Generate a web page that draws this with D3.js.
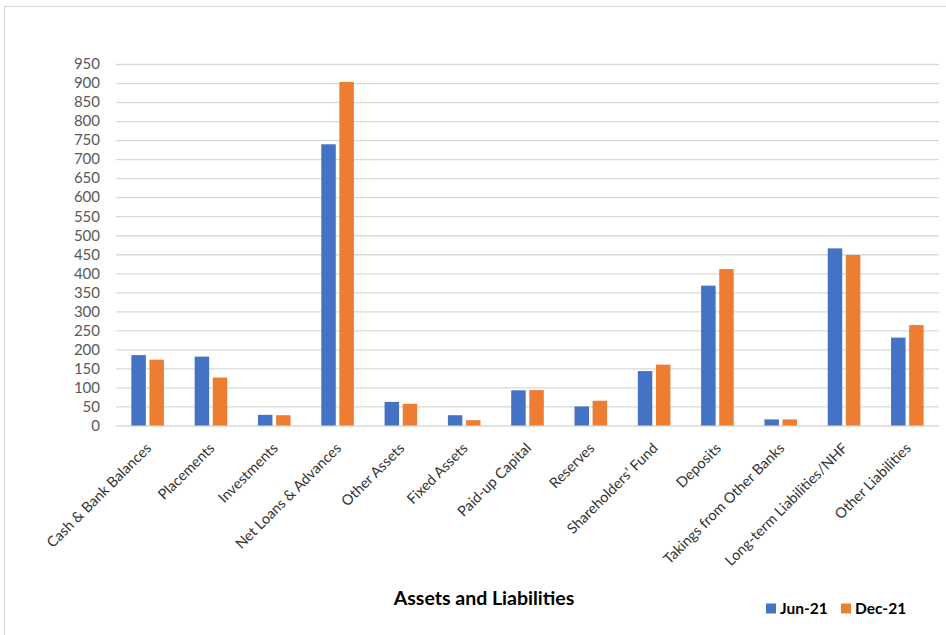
<!DOCTYPE html>
<html>
<head>
<meta charset="utf-8">
<script src="https://cdn.jsdelivr.net/npm/d3@7"></script>
<style>
  html, body { margin: 0; padding: 0; background: #fff; }
  svg { display: block; font-family: Lato, "Open Sans", sans-serif; }
</style>
</head>
<body>
<svg id="chart" width="946" height="635"></svg>
<script>
// Balance sheet items for two reporting dates
const categories = [
  "Cash & Bank Balances", "Placements", "Investments", "Net Loans & Advances",
  "Other Assets", "Fixed Assets", "Paid-up Capital", "Reserves",
  "Shareholders’ Fund", "Deposits", "Takings from Other Banks",
  "Long-term Liabilities/NHF", "Other Liabilities"
];
const seriesNames = ["Jun-21", "Dec-21"];
const jun21 = [185, 181, 28, 739, 62, 27, 92.5, 50, 143, 367.5, 16, 465.5, 231];
const dec21 = [173, 126, 27, 903, 57, 14, 93, 65, 160, 411, 16, 448, 264];
const yTicks = d3.range(0, 951, 50);
const colors = ["#4472C4", "#ED7D31"];
const axisTitle = "Assets and Liabilities";

const svg = d3.select("#chart");

// outer frame of the chart area
svg.append("path")
  .attr("d", "M4.5,636 V6.5 H947")
  .attr("fill", "none")
  .attr("stroke", "#d9d9d9")
  .attr("stroke-width", 1.2);

const plot = { left: 116, right: 939, top: 64, bottom: 425.5 };

const y = d3.scaleLinear().domain([0, 950]).range([plot.bottom, plot.top]);
const x0 = d3.scaleBand().domain(categories).range([plot.left, plot.right]);
const groupHalf = 16.3;
const x1 = d3.scaleBand().domain(seriesNames)
  .range([x0.bandwidth() / 2 - groupHalf, x0.bandwidth() / 2 + groupHalf])
  .paddingInner(0.2);

// horizontal gridlines + value labels
const yAxis = d3.axisLeft(y).tickValues(yTicks).tickSize(-(plot.right - plot.left)).tickPadding(16);
const gy = svg.append("g")
  .attr("transform", `translate(${plot.left},0)`)
  .call(yAxis);
gy.select(".domain").remove();
gy.selectAll(".tick line").attr("stroke", "#d9d9d9").attr("stroke-width", 1.3);
gy.selectAll(".tick text")
  .attr("fill", "#595959")
  .style("font-size", "15px")
  .style("font-family", "Lato, sans-serif");

// bars
const rows = categories.map((c, i) => ({ cat: c, vals: [jun21[i], dec21[i]] }));
const groups = svg.append("g").selectAll("g")
  .data(rows).join("g")
  .attr("transform", d => `translate(${x0(d.cat)},0)`);
groups.selectAll("rect")
  .data(d => d.vals.map((v, k) => ({ key: seriesNames[k], v, k })))
  .join("rect")
  .attr("x", d => x1(d.key))
  .attr("width", x1.bandwidth())
  .attr("y", d => y(d.v))
  .attr("height", d => y(0) - y(d.v))
  .attr("fill", d => colors[d.k]);

// category labels rotated 45 degrees
const xAxis = d3.axisBottom(x0).tickSize(0).tickPadding(0);
const gx = svg.append("g")
  .attr("transform", `translate(0,${plot.bottom})`)
  .call(xAxis);
gx.select(".domain").remove();
gx.selectAll(".tick text")
  .attr("text-anchor", "end")
  .attr("fill", "#333")
  .style("font-size", "14.5px")
  .style("font-family", "Lato, sans-serif")
  .attr("dy", "0.35em")
  .attr("transform", "translate(1,20) rotate(-45)");

// axis title
svg.append("text")
  .attr("x", 484)
  .attr("y", 605)
  .attr("text-anchor", "middle")
  .attr("font-weight", "bold")
  .attr("font-size", "19.5px")
  .attr("fill", "#000")
  .text(axisTitle);

// legend
const legendX = [766, 841];
const lg = svg.append("g");
seriesNames.forEach((s, k) => {
  lg.append("rect")
    .attr("x", legendX[k]).attr("y", 603.5)
    .attr("width", 10).attr("height", 10)
    .attr("fill", colors[k]);
  lg.append("text")
    .attr("x", legendX[k] + 14).attr("y", 608.5)
    .attr("dy", "0.35em")
    .attr("font-weight", "bold")
    .attr("font-size", "15.5px")
    .attr("fill", "#000")
    .text(s);
});
</script>
</body>
</html>
